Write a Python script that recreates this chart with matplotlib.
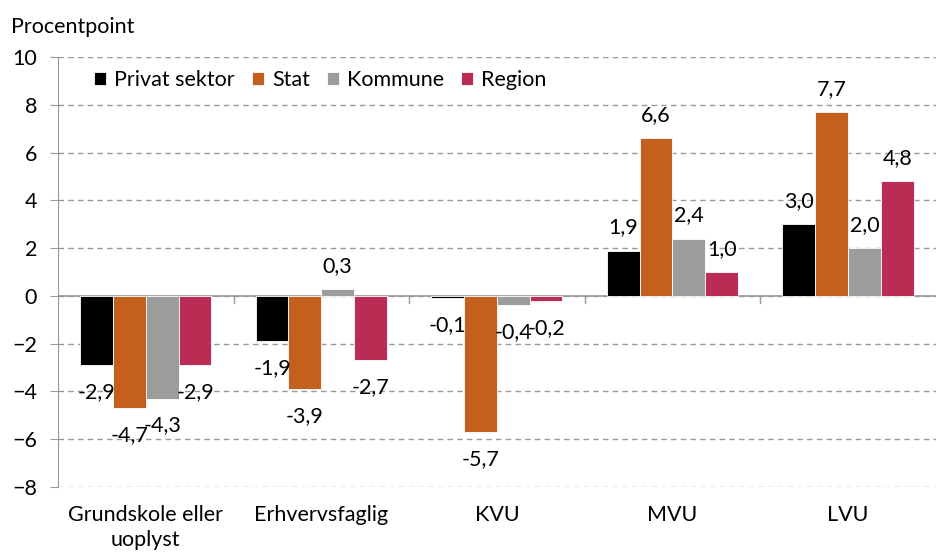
import matplotlib.pyplot as plt
import numpy as np

plt.rcParams['font.family'] = ['Lato', 'DejaVu Sans']

categories = ['Grundskole eller\nuoplyst', 'Erhvervsfaglig', 'KVU', 'MVU', 'LVU']
series = ['Privat sektor', 'Stat', 'Kommune', 'Region']
privat = [-2.9, -1.9, -0.1, 1.9, 3.0]
stat = [-4.7, -3.9, -5.7, 6.6, 7.7]
kommune = [-4.3, 0.3, -0.4, 2.4, 2.0]
region = [-2.9, -2.7, -0.2, 1.0, 4.8]
values = [privat, stat, kommune, region]
colors = ['#000000', '#C55F1E', '#9C9C9C', '#BA2C53']

fs = 15.5

fig = plt.figure(figsize=(9.48, 5.59), dpi=100)
ax = fig.add_axes([0.0612, 0.1288, 0.9258, 0.7692])

x = np.arange(len(categories))
w = 0.187
for i, (vals, c, name) in enumerate(zip(values, colors, series)):
    pos = x + (i - 1.5) * w
    ax.bar(pos, vals, width=w, color=c, label=name, edgecolor='white',
           linewidth=0.6, zorder=3)
    for px, v in zip(pos, vals):
        txt = ('%.1f' % v).replace('.', ',')
        off = 16.6 if v >= 0 else -19.4
        ax.annotate(txt, (px, v), xytext=(0, off), textcoords='offset points',
                    ha='center', va='center', fontsize=fs, zorder=4)

ax.set_xlim(-0.5, len(categories) - 0.5)
ax.set_ylim(-8, 10)
ax.set_yticks(range(-8, 11, 2))
ax.yaxis.grid(True, linestyle=(0, (4, 3)), color='#999999', linewidth=1)
ax.set_axisbelow(True)
ax.axhline(0, color='#999999', linewidth=1.2, zorder=2)

for s in ['top', 'right', 'bottom']:
    ax.spines[s].set_visible(False)
ax.spines['left'].set_color('#999999')

ax.set_xticks(x)
ax.set_xticklabels(categories, fontsize=fs, linespacing=1.3)
ax.tick_params(axis='x', length=0, pad=13)
# small ticks at category boundaries on the zero line
for b in np.arange(0.5, len(categories) - 0.5, 1):
    ax.plot([b, b], [0, -0.3], color='#999999', linewidth=1, zorder=2)
ax.tick_params(axis='y', length=6, color='#999999', labelsize=fs, pad=9)

fig.text(0.012, 0.952, 'Procentpoint', fontsize=fs, va='center')

ax.legend(loc='upper left', bbox_to_anchor=(0.019, 1.014), ncol=4, frameon=False,
          fontsize=fs, handlelength=0.56, handleheight=0.56, handletextpad=0.37,
          columnspacing=0.8)

fig.savefig('out.png', dpi=100)
